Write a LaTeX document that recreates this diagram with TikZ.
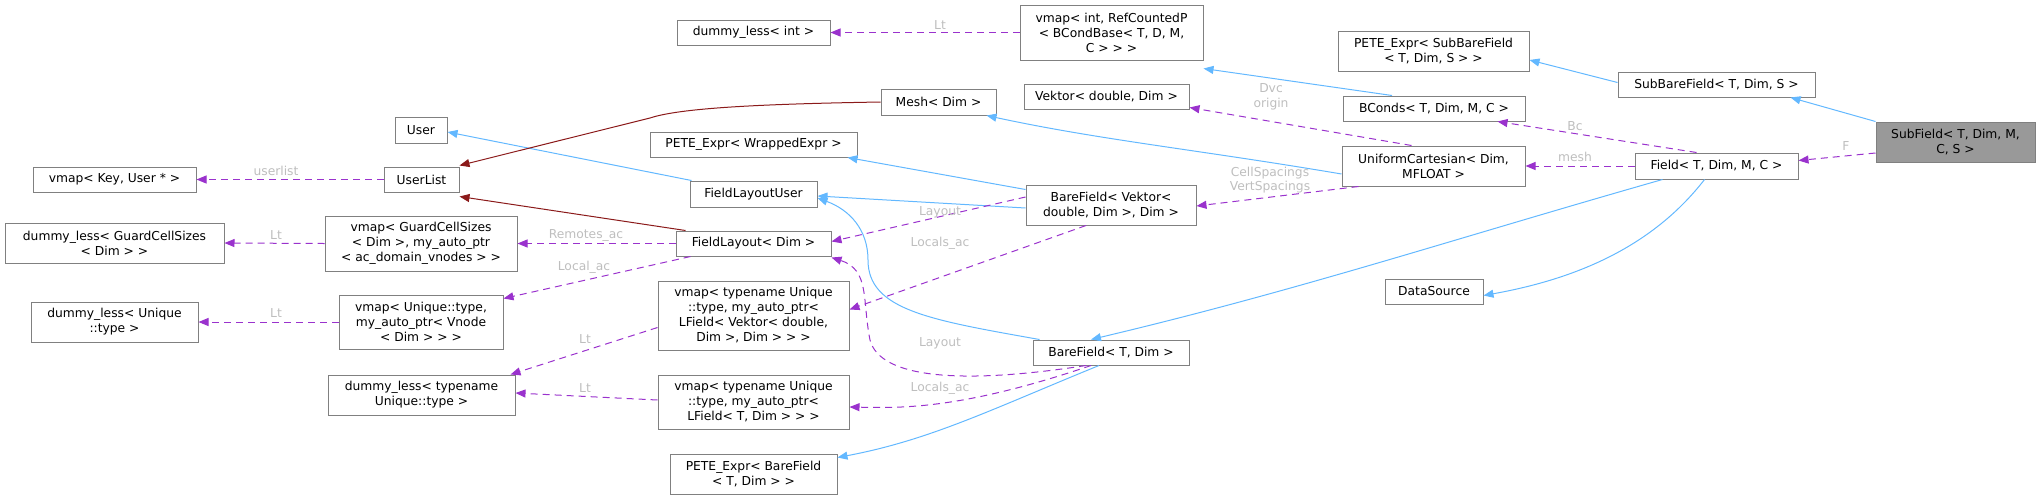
\documentclass[tikz,border=0pt]{standalone}
\usepackage{fontspec}
\setmainfont{DejaVu Sans}
\usetikzlibrary{arrows.meta}
\definecolor{inh}{HTML}{63B8FF}
\definecolor{use}{HTML}{9A32CD}
\definecolor{own}{HTML}{8B1A1A}
\definecolor{bord}{HTML}{808080}
\definecolor{lblc}{HTML}{BEBEBE}
\begin{document}
\begin{tikzpicture}[x=1pt,y=-1pt,
  box/.style={draw=bord,line width=1pt,fill=white,align=center,inner sep=1pt,font=\fontsize{12.3}{15}\selectfont,text=black},
  lbl/.style={text=lblc,align=center,inner sep=0pt,font=\fontsize{12.3}{14.5}\selectfont},
  tipA/.style={-{Triangle[length=10pt,width=8pt]}},
  inhE/.style={tipA,draw=inh,line width=1pt},
  useE/.style={tipA,draw=use,line width=1pt,dash pattern=on 7pt off 5pt},
  ownE/.style={tipA,draw=own,line width=1pt}]
\useasboundingbox (0,0) rectangle (2040,499);
% nodes
\node[box,minimum width=163,minimum height=25] (vmapKey) at (114.5,179.5) {vmap< Key, User * >};
\node[box,minimum width=52,minimum height=26] (User) at (421,130) {User};
\node[box,minimum width=75,minimum height=25] (UserList) at (421.5,179.5) {UserList};
\node[box,minimum width=219,minimum height=40] (dlGCS) at (114.5,243) {dummy\_less< GuardCellSizes\\< Dim > >};
\node[box,minimum width=192,minimum height=55] (vmapGCS) at (421,243.5) {vmap< GuardCellSizes\\< Dim >, my\_auto\_ptr\\< ac\_domain\_vnodes > >};
\node[box,minimum width=167,minimum height=40] (dlU) at (114.5,322) {dummy\_less< Unique\\::type >};
\node[box,minimum width=164,minimum height=54] (vmapU) at (421,322) {vmap< Unique::type,\\my\_auto\_ptr< Vnode\\< Dim > > >};
\node[box,minimum width=187,minimum height=40] (dlTU) at (421.5,395) {dummy\_less< typename\\Unique::type >};
\node[box,minimum width=153,minimum height=25] (dlInt) at (753.5,32.5) {dummy\_less< int >};
\node[box,minimum width=115,minimum height=26] (Mesh) at (938.5,102) {Mesh< Dim >};
\node[box,minimum width=207,minimum height=25] (PETEW) at (753.5,144.5) {PETE\_Expr< WrappedExpr >};
\node[box,minimum width=127,minimum height=26] (FLU) at (753.5,194) {FieldLayoutUser};
\node[box,minimum width=155,minimum height=25] (FL) at (753.5,243.5) {FieldLayout< Dim >};
\node[box,minimum width=191,minimum height=69] (vmapLV) at (753.5,315.5) {vmap< typename Unique\\::type, my\_auto\_ptr<\\LField< Vektor< double,\\Dim >, Dim > > >};
\node[box,minimum width=191,minimum height=54] (vmapLT) at (753.5,402) {vmap< typename Unique\\::type, my\_auto\_ptr<\\LField< T, Dim > > >};
\node[box,minimum width=167,minimum height=40] (PETEB) at (753.5,474) {PETE\_Expr< BareField\\< T, Dim > >};
\node[box,minimum width=183,minimum height=55] (vmapInt) at (1111.5,32.5) {vmap< int, RefCountedP\\< BCondBase< T, D, M,\\C > > >};
\node[box,minimum width=165,minimum height=25] (Vektor) at (1106.5,96.5) {Vektor< double, Dim >};
\node[box,minimum width=170,minimum height=40] (BFV) at (1111,205) {BareField< Vektor<\\double, Dim >, Dim >};
\node[box,minimum width=156,minimum height=25] (BFT) at (1111,352.5) {BareField< T, Dim >};
\node[box,minimum width=191,minimum height=40] (PETES) at (1433.5,51) {PETE\_Expr< SubBareField\\< T, Dim, S > >};
\node[box,minimum width=182,minimum height=25] (BConds) at (1434,108.5) {BConds< T, Dim, M, C >};
\node[box,minimum width=183,minimum height=40] (UC) at (1433.5,166) {UniformCartesian< Dim,\\MFLOAT >};
\node[box,minimum width=98,minimum height=25] (DS) at (1434,291.5) {DataSource};
\node[box,minimum width=197,minimum height=25] (SBF) at (1716.5,84.5) {SubBareField< T, Dim, S >};
\node[box,minimum width=163,minimum height=26] (Field) at (1716.5,166) {Field< T, Dim, M, C >};
\node[box,minimum width=159,minimum height=40,fill={rgb,255:red,153;green,153;blue,153}] (SubField) at (1955.5,142) {SubField< T, Dim, M,\\C, S >};
% edges
\draw[useE] (UserList.west) -- (vmapKey.east);
\draw[inhE] ([xshift=2pt]FLU.north west) -- ([yshift=-2pt]User.east);
\draw[ownE] (Mesh.west) .. controls (760,104) and (680,108) .. (650,118) -- ([yshift=1pt]UserList.north east);
\draw[ownE] ([xshift=10pt]FL.north west) -- ([yshift=-4pt]UserList.south east);
\draw[useE] (vmapGCS.west) -- (dlGCS.east);
\draw[useE] (FL.west) -- (vmapGCS.east);
\draw[useE] ([xshift=15pt]FL.south west) -- ([yshift=-4pt]vmapU.north east);
\draw[useE] (vmapU.west) -- (dlU.east);
\draw[useE] ([yshift=-12pt]vmapLV.west) -- ([xshift=-5pt]dlTU.north east);
\draw[useE] ([yshift=2pt]vmapLT.west) -- ([yshift=2pt]dlTU.east);
\draw[inhE] ([yshift=-5pt]BFV.north west) -- ([xshift=-10pt]PETEW.south east);
\draw[inhE] ([yshift=-3pt]BFV.west) -- ([yshift=-2pt]FLU.east);
\draw[inhE] ([xshift=7pt]BFT.north west) .. controls (930,320) and (868,310) .. (868,260) .. controls (868,230) and (850,210) .. ([yshift=-4pt]FLU.east);
\draw[useE] ([yshift=8pt]BFV.west) -- ([yshift=2pt]FL.east);
\draw[useE] ([xshift=-25pt]BFV.south) -- ([yshift=6pt]vmapLV.east);
\draw[useE] ([xshift=-25pt]BFT.south) .. controls (960,385) and (880,378) .. (870,340) .. controls (862,300) and (870,270) .. ([yshift=-1pt]FL.south east);
\draw[useE] ([xshift=-20pt]BFT.south) .. controls (960,410) and (900,408) .. ([yshift=-5pt]vmapLT.east);
\draw[inhE] ([xshift=-12pt]BFT.south) .. controls (990,410) and (930,440) .. ([yshift=-4pt]PETEB.north east);
\draw[useE] (vmapInt.west) -- (dlInt.east);
\draw[inhE] ([yshift=-8pt]UC.west) .. controls (1200,150) and (1100,140) .. ([xshift=-10pt]Mesh.south east);
\draw[useE] ([xshift=-22pt]UC.north) -- ([yshift=2pt]Vektor.south east);
\draw[useE] ([xshift=-75pt]UC.south) -- ([yshift=-1pt]BFV.east);
\draw[inhE] ([xshift=-42pt]BConds.north) -- ([yshift=-8pt]vmapInt.south east);
\draw[useE] ([xshift=-20pt]Field.north) -- ([xshift=-28pt]BConds.south east);
\draw[useE] (Field.west) -- (UC.east);
\draw[inhE] ([xshift=-54pt]Field.south) .. controls (1450,240) and (1300,290) .. ([xshift=-20pt]BFT.north);
\draw[inhE] ([xshift=-12pt]Field.south) .. controls (1650,250) and (1570,280) .. ([yshift=-4pt]DS.east);
\draw[inhE] ([yshift=-11pt]SBF.north west) -- ([yshift=-9pt]PETES.east);
\draw[inhE] (SubField.north west) -- ([xshift=-25pt]SBF.south east);
\draw[useE] ([yshift=-11pt]SubField.west) -- ([yshift=-8pt]Field.north east);
% labels
\node[lbl] (l1) at (276,171) {userlist};
\node[lbl] (l2) at (276,235) {Lt};
\node[lbl] (l3) at (586,235) {Remotes\_ac};
\node[lbl] (l4) at (584,267) {Local\_ac};
\node[lbl] (l5) at (276,313) {Lt};
\node[lbl] (l6) at (585,339) {Lt};
\node[lbl] (l7) at (585,388) {Lt};
\node[lbl] (l8) at (940,212) {Layout};
\node[lbl] (l9) at (940,243) {Locals\_ac};
\node[lbl] (l10) at (940,343) {Layout};
\node[lbl] (l11) at (940,388) {Locals\_ac};
\node[lbl] (l12) at (940,25) {Lt};
\node[lbl] (l13) at (1271,97) {Dvc\\origin};
\node[lbl] (l14) at (1270,180) {CellSpacings\\VertSpacings};
\node[lbl] (l15) at (1575,126) {Bc};
\node[lbl] (l16) at (1575,157) {mesh};
\node[lbl] (l17) at (1846,146) {F};
\end{tikzpicture}
\end{document}
